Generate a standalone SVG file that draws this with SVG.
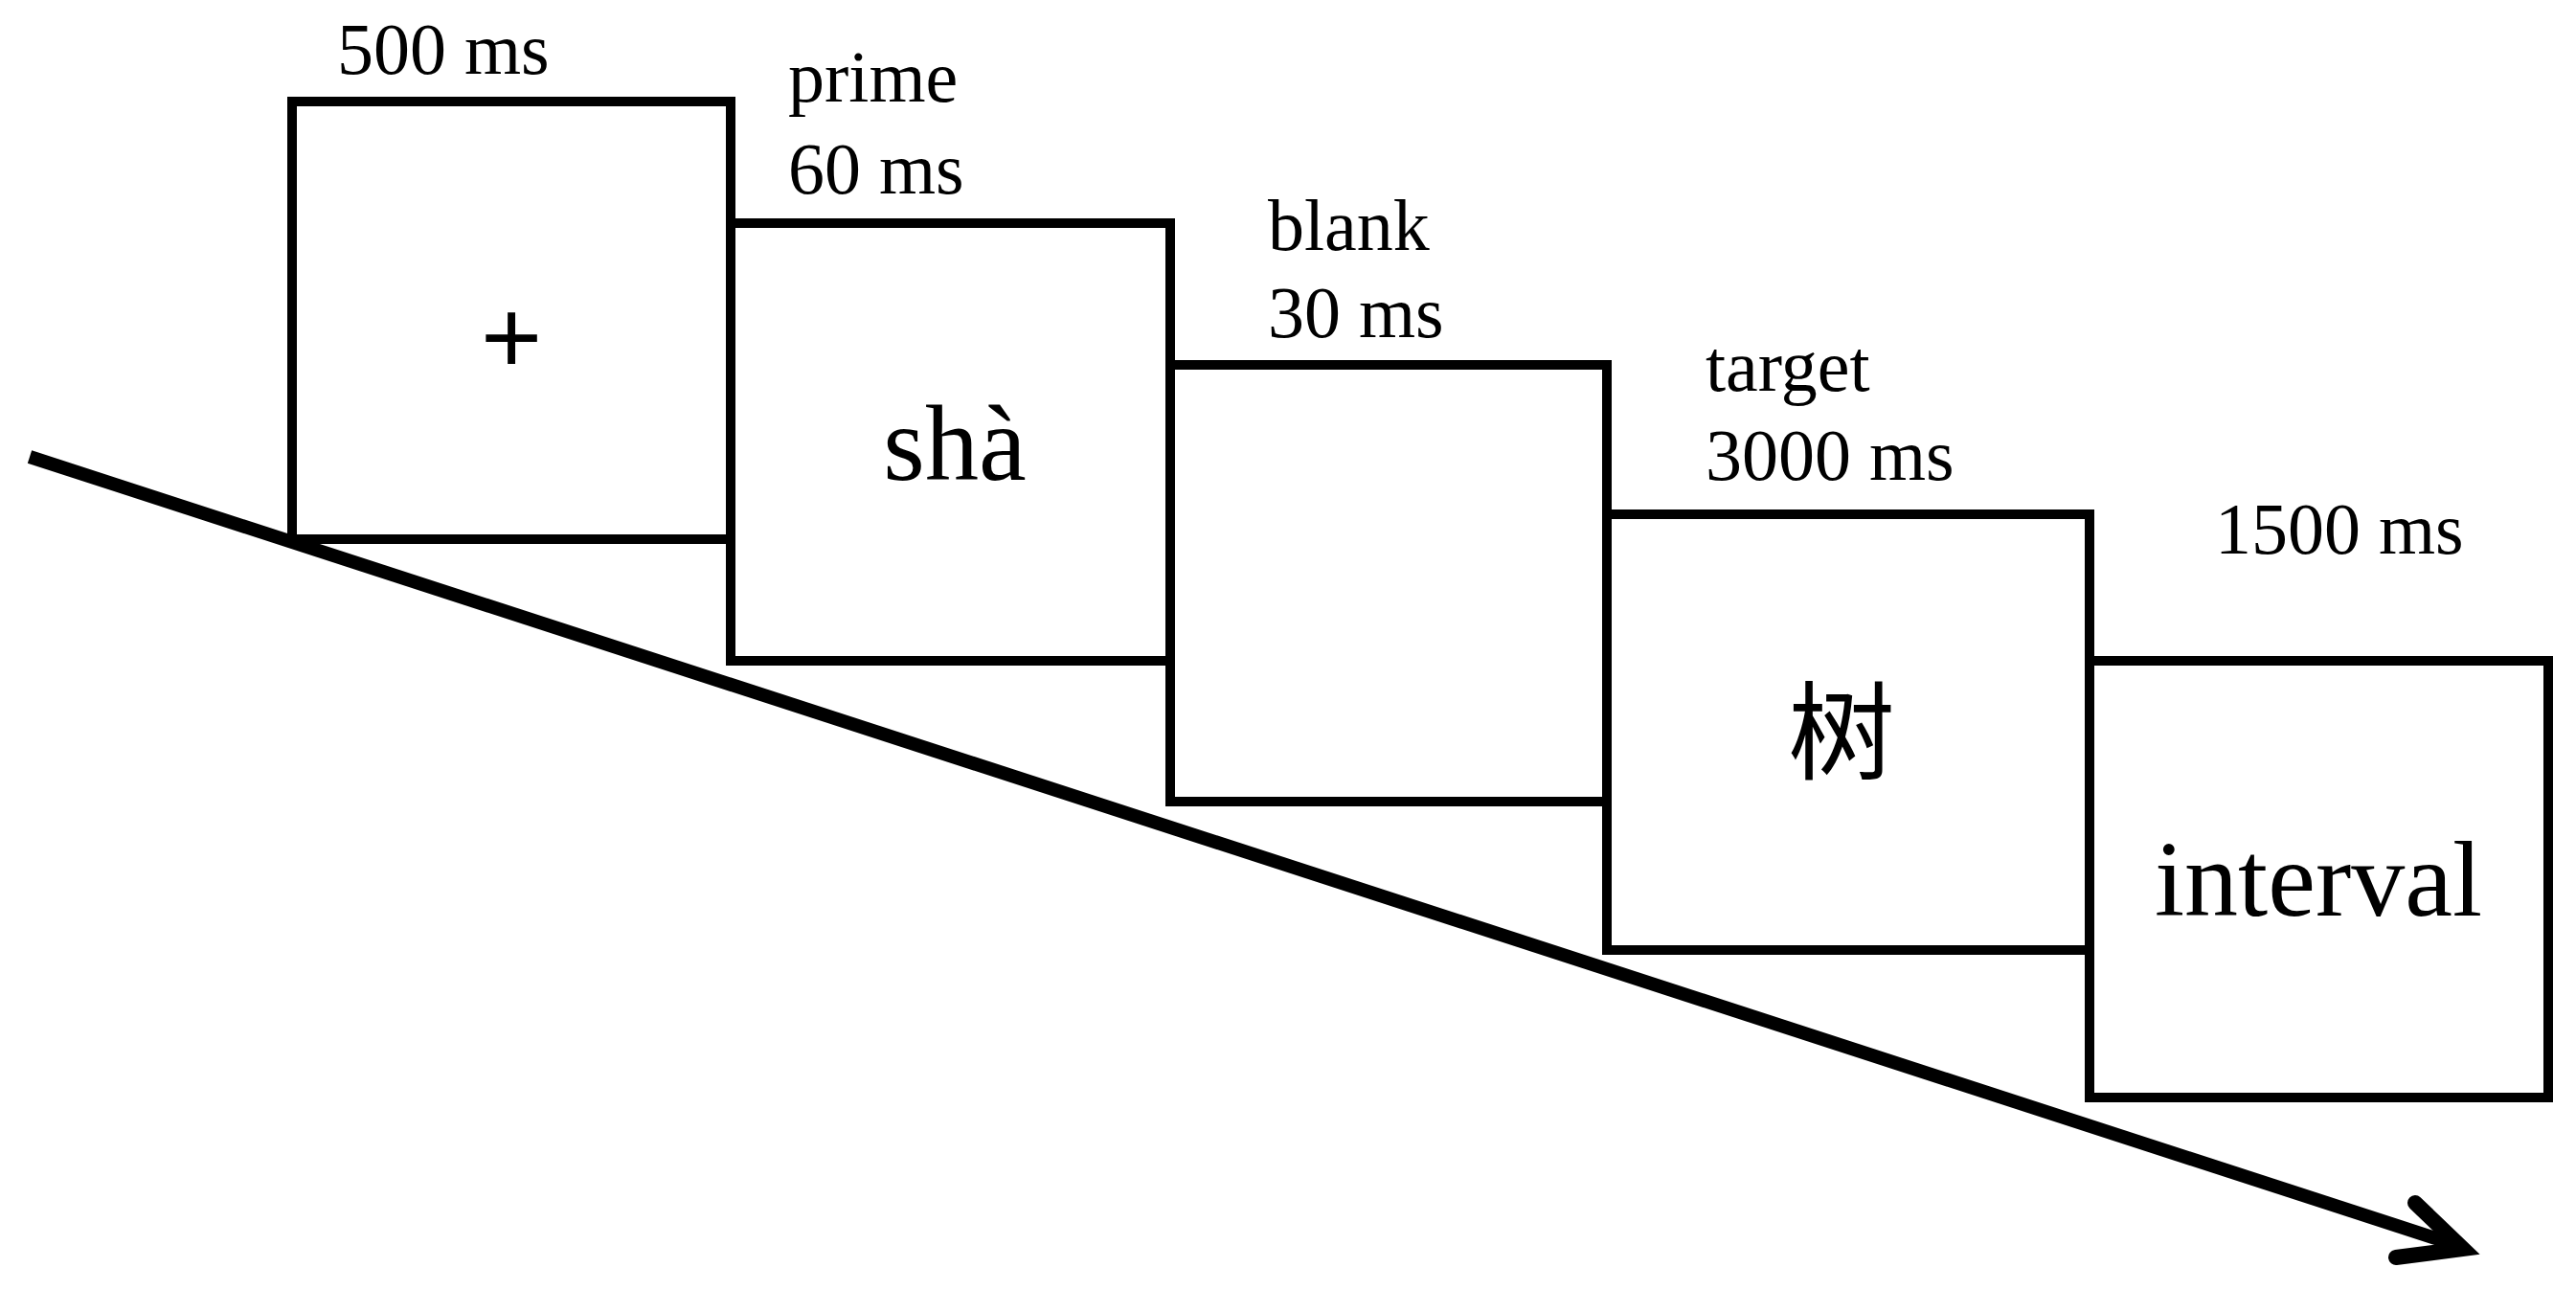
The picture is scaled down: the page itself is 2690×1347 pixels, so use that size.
<svg xmlns="http://www.w3.org/2000/svg" width="2690" height="1347" viewBox="0 0 2690 1347">
<style>
.box{fill:#fff;stroke:#000;stroke-width:10}
.lbl{font-family:"Liberation Serif",serif;font-size:76px;fill:#000}
.big{font-family:"Liberation Serif","Noto Sans CJK SC",serif;font-size:112px;fill:#000;text-anchor:middle}
</style>
<rect width="2690" height="1347" fill="#fff"/>
<g id="connectors">
<line x1="31" y1="477" x2="2568" y2="1301" stroke="#000" stroke-width="14"/>
<polyline points="2522,1256 2572,1304 2502,1313" fill="none" stroke="#000" stroke-width="16" stroke-linecap="round" stroke-linejoin="miter"/>
</g>
<g id="box5"><rect class="box" x="2182" y="690" width="479" height="456"/><text class="big" x="2421" y="956">interval</text><text class="lbl" x="2313" y="578">1500 ms</text></g>
<g id="box4"><rect class="box" x="1678" y="537" width="504" height="455"/><text class="big" x="1923" y="806" font-size="115">树</text><text class="lbl" x="1781" y="408">target</text><text class="lbl" x="1781" y="501">3000 ms</text></g>
<g id="box3"><rect class="box" x="1222" y="381" width="456" height="456"/><text class="lbl" x="1324" y="261">blank</text><text class="lbl" x="1324" y="352">30 ms</text></g>
<g id="box2"><rect class="box" x="763" y="233" width="459" height="457"/><text class="big" x="997" y="501">shà</text><text class="lbl" x="823" y="106">prime</text><text class="lbl" x="823" y="202">60 ms</text></g>
<g id="box1"><rect class="box" x="305" y="106" width="458" height="457"/><text x="534" y="390" font-family="Liberation Sans,sans-serif" font-size="110" text-anchor="middle">+</text><text class="lbl" x="352" y="77">500 ms</text></g>
</svg>
